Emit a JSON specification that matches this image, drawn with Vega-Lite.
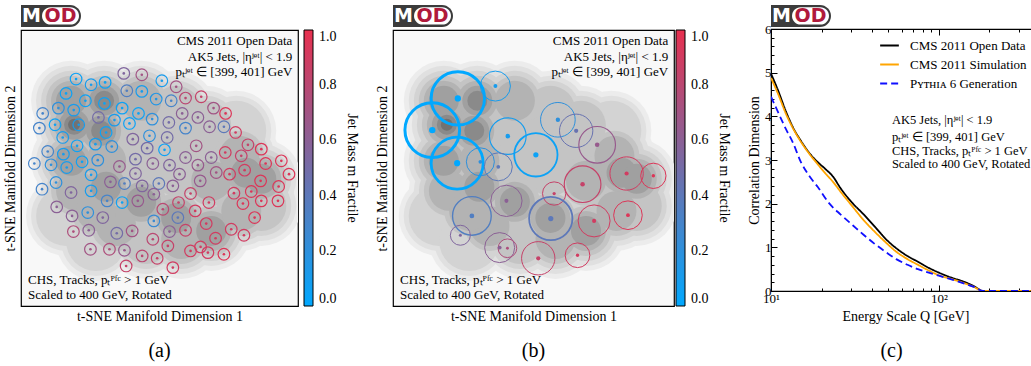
{
"$schema": "https://vega.github.io/schema/vega-lite/v6.json",
"background": "white",
"padding": {"left": 2, "top": 4, "right": 0, "bottom": 0},
"config": {
  "font": "Liberation Serif",
  "view": {"stroke": "black", "strokeWidth": 1.2},
  "axis": {"labelFont": "Liberation Serif", "titleFont": "Liberation Serif", "titleFontWeight": "normal", "titleFontSize": 14, "labelFontSize": 13, "labelColor": "black", "titleColor": "black", "grid": false, "domainColor": "black", "tickColor": "black"},
  "legend": {"labelFont": "Liberation Serif", "titleFont": "Liberation Serif", "labelColor": "black", "titleColor": "black", "titleFontWeight": "normal"},
  "title": {"font": "Liberation Serif", "fontWeight": "normal", "color": "black"}
},
"datasets": {
  "jetsA": [
    {"x":24.0,"y":76.5,"f":0.05},{"x":38.3,"y":78.2,"f":0.55},{"x":43.7,"y":77.8,"f":0.7},{"x":49.7,"y":76.0,"f":0.1},{"x":28.5,"y":74.8,"f":0.1},{"x":32.7,"y":75.5,"f":0.05},{"x":54.0,"y":74.2,"f":0.7},{"x":21.0,"y":72.2,"f":0.05},{"x":39.2,"y":73.0,"f":0.35},{"x":43.7,"y":72.8,"f":0.1},{"x":48.0,"y":70.5,"f":0.15},{"x":52.5,"y":70.0,"f":0.3},{"x":56.8,"y":70.8,"f":0.8},{"x":61.5,"y":71.2,"f":0.85},{"x":26.8,"y":70.0,"f":0.05},{"x":32.5,"y":69.2,"f":0.05},{"x":18.7,"y":67.8,"f":0.2},{"x":23.3,"y":67.2,"f":0.1},{"x":37.8,"y":67.8,"f":0.05},{"x":42.7,"y":66.2,"f":0.05},{"x":55.8,"y":66.2,"f":0.6},{"x":65.2,"y":67.8,"f":0.7},{"x":68.8,"y":66.2,"f":0.95},{"x":14.0,"y":66.2,"f":0.3},{"x":60.5,"y":65.0,"f":0.6},{"x":30.7,"y":65.0,"f":0.5},{"x":35.5,"y":64.2,"f":0.1},{"x":46.8,"y":64.5,"f":0.2},{"x":51.8,"y":63.5,"f":0.5},{"x":17.7,"y":62.8,"f":0.05},{"x":24.8,"y":62.8,"f":0.1},{"x":40.0,"y":63.2,"f":0.05},{"x":13.0,"y":61.8,"f":0.3},{"x":56.8,"y":61.8,"f":0.3},{"x":64.0,"y":62.2,"f":0.6},{"x":68.3,"y":62.2,"f":0.4},{"x":71.8,"y":60.5,"f":0.9},{"x":20.0,"y":59.0,"f":0.1},{"x":33.0,"y":60.5,"f":0.05},{"x":46.0,"y":59.5,"f":0.2},{"x":41.0,"y":58.5,"f":0.55},{"x":51.3,"y":59.0,"f":0.5},{"x":24.3,"y":56.5,"f":0.05},{"x":29.8,"y":57.0,"f":0.1},{"x":34.7,"y":56.3,"f":0.2},{"x":60.0,"y":56.5,"f":0.7},{"x":75.5,"y":56.8,"f":0.85},{"x":15.5,"y":54.8,"f":0.3},{"x":45.3,"y":55.8,"f":0.5},{"x":50.5,"y":55.3,"f":0.05},{"x":68.7,"y":54.5,"f":0.9},{"x":73.5,"y":53.5,"f":0.85},{"x":79.5,"y":55.5,"f":0.95},{"x":20.2,"y":54.0,"f":0.1},{"x":25.8,"y":51.7,"f":0.05},{"x":30.5,"y":52.2,"f":0.2},{"x":11.5,"y":51.2,"f":0.3},{"x":16.5,"y":50.8,"f":0.2},{"x":21.2,"y":50.0,"f":0.1},{"x":37.0,"y":50.3,"f":0.65},{"x":41.8,"y":52.5,"f":0.5},{"x":47.0,"y":51.2,"f":0.6},{"x":52.0,"y":50.7,"f":0.55},{"x":56.8,"y":53.0,"f":0.6},{"x":64.5,"y":53.0,"f":0.6},{"x":60.5,"y":50.7,"f":0.65},{"x":80.8,"y":51.2,"f":0.95},{"x":85.5,"y":52.0,"f":0.95},{"x":87.8,"y":48.0,"f":0.95},{"x":74.5,"y":49.2,"f":0.9},{"x":70.0,"y":48.0,"f":0.9},{"x":66.0,"y":48.5,"f":0.7},{"x":28.5,"y":47.8,"f":0.1},{"x":41.8,"y":48.2,"f":0.55},{"x":34.3,"y":45.7,"f":0.6},{"x":38.5,"y":45.2,"f":0.35},{"x":43.8,"y":44.5,"f":0.55},{"x":48.8,"y":45.2,"f":0.4},{"x":55.0,"y":48.0,"f":0.6},{"x":18.0,"y":45.5,"f":0.2},{"x":13.8,"y":43.5,"f":0.3},{"x":22.5,"y":42.5,"f":0.55},{"x":28.5,"y":43.0,"f":0.1},{"x":58.3,"y":42.2,"f":0.85},{"x":71.3,"y":42.3,"f":0.9},{"x":76.5,"y":42.8,"f":0.95},{"x":79.3,"y":46.0,"f":0.95},{"x":84.7,"y":44.3,"f":0.95},{"x":84.5,"y":40.0,"f":0.95},{"x":33.3,"y":40.0,"f":0.3},{"x":37.8,"y":39.5,"f":0.05},{"x":42.5,"y":40.0,"f":0.65},{"x":47.3,"y":42.0,"f":0.6},{"x":53.0,"y":44.5,"f":0.6},{"x":61.2,"y":46.0,"f":0.65},{"x":50.0,"y":37.5,"f":0.8},{"x":54.7,"y":39.5,"f":0.85},{"x":59.7,"y":37.0,"f":0.9},{"x":63.8,"y":39.5,"f":0.9},{"x":18.2,"y":38.2,"f":0.6},{"x":74.0,"y":39.2,"f":0.95},{"x":79.5,"y":40.0,"f":0.95},{"x":27.5,"y":36.5,"f":0.2},{"x":22.8,"y":35.5,"f":0.6},{"x":32.0,"y":35.0,"f":0.55},{"x":47.3,"y":34.0,"f":0.25},{"x":54.5,"y":35.0,"f":0.4},{"x":77.5,"y":35.0,"f":0.95},{"x":63.0,"y":33.2,"f":0.9},{"x":23.2,"y":30.8,"f":0.75},{"x":27.8,"y":31.2,"f":0.6},{"x":36.2,"y":30.3,"f":0.5},{"x":40.8,"y":31.0,"f":0.7},{"x":47.0,"y":28.5,"f":0.8},{"x":52.0,"y":30.8,"f":0.6},{"x":56.8,"y":31.2,"f":0.85},{"x":65.8,"y":28.8,"f":0.9},{"x":70.5,"y":31.5,"f":0.9},{"x":74.3,"y":29.7,"f":0.9},{"x":51.5,"y":26.5,"f":0.85},{"x":61.3,"y":26.2,"f":0.9},{"x":28.3,"y":25.5,"f":0.7},{"x":34.0,"y":25.5,"f":0.75},{"x":38.5,"y":25.2,"f":0.65},{"x":43.8,"y":23.5,"f":0.8},{"x":48.3,"y":22.8,"f":0.85},{"x":58.3,"y":25.0,"f":0.9},{"x":63.5,"y":24.5,"f":0.9},{"x":68.3,"y":24.0,"f":0.95},{"x":39.0,"y":20.5,"f":0.85},{"x":53.0,"y":20.0,"f":0.9}
  ],
  "clustersB": [
    {"x":26.65,"y":70.7,"f":0.0,"n":711},{"x":19.1,"y":61.2,"f":0.0,"n":747},{"x":26.45,"y":51.3,"f":0.0,"n":676},{"x":37.75,"y":74.4,"f":0.1,"n":225},{"x":41.4,"y":59.4,"f":0.1,"n":336},{"x":49.7,"y":53.8,"f":0.05,"n":469},{"x":33.3,"y":51.7,"f":0.2,"n":196},{"x":38.6,"y":50.2,"f":0.4,"n":196},{"x":56.2,"y":64.3,"f":0.2,"n":300},{"x":61.6,"y":61.0,"f":0.45,"n":278},{"x":67.8,"y":56.8,"f":0.65,"n":336},{"x":76.5,"y":48.2,"f":0.9,"n":278},{"x":84.4,"y":47.5,"f":0.95,"n":160},{"x":63.5,"y":45.0,"f":0.85,"n":336},{"x":55.1,"y":42.2,"f":0.85,"n":136},{"x":41.0,"y":40.0,"f":0.6,"n":245},{"x":30.8,"y":35.5,"f":0.35,"n":374},{"x":54.1,"y":34.7,"f":0.4,"n":469},{"x":66.9,"y":34.0,"f":0.9,"n":256},{"x":76.9,"y":35.7,"f":0.95,"n":205},{"x":27.4,"y":29.7,"f":0.55,"n":100},{"x":39.0,"y":26.0,"f":0.6,"n":225},{"x":41.3,"y":25.8,"f":0.75,"n":87},{"x":50.4,"y":22.8,"f":0.85,"n":278},{"x":62.0,"y":23.7,"f":0.9,"n":152}
  ],
  "density": [
    {"x":22.5,"y":70.0,"p":6},{"x":32.4,"y":70.0,"p":7},{"x":43.5,"y":70.0,"p":5},{"x":54.0,"y":67.0,"p":4},{"x":63.0,"y":62.5,"p":4},{"x":23.4,"y":62.8,"p":8},{"x":31.5,"y":61.0,"p":7},{"x":42.0,"y":59.5,"p":4},{"x":52.5,"y":58.0,"p":4},{"x":63.0,"y":55.0,"p":4},{"x":72.9,"y":53.5,"p":5},{"x":22.5,"y":52.0,"p":6},{"x":33.0,"y":52.0,"p":5},{"x":43.5,"y":50.5,"p":4},{"x":54.0,"y":49.0,"p":4},{"x":64.5,"y":46.0,"p":5},{"x":75.0,"y":48.4,"p":6},{"x":79.5,"y":46.6,"p":6},{"x":24.0,"y":43.0,"p":5},{"x":33.0,"y":44.2,"p":6},{"x":43.5,"y":39.7,"p":6},{"x":54.0,"y":34.9,"p":6},{"x":64.5,"y":31.0,"p":6},{"x":73.5,"y":37.0,"p":5},{"x":36.0,"y":32.5,"p":5},{"x":45.0,"y":28.6,"p":4},{"x":55.5,"y":28.6,"p":5},{"x":30.0,"y":37.0,"p":5},{"x":72.0,"y":61.0,"p":3},{"x":21.0,"y":35.5,"p":3},{"x":30.0,"y":28.0,"p":3},{"x":79.5,"y":38.5,"p":4}
  ],
  "notesTR": [
    {"x":88.8,"y":88.0,"t":"CMS 2011 Open Data"},
    {"x":88.8,"y":83.2,"t":"AK5 Jets, |ηʲᵉᵗ| < 1.9"},
    {"x":88.8,"y":78.7,"t":"pₜʲᵉᵗ ∈ [399, 401] GeV"}
  ],
  "notesBL": [
    {"x":9.6,"y":16.3,"t":"CHS, Tracks, pₜᴾᶠᶜ > 1 GeV"},
    {"x":9.6,"y":11.8,"t":"Scaled to 400 GeV, Rotated"}
  ],
  "notesC": [
    {"x":52.5,"y":3.92,"t":"AK5 Jets, |ηʲᵉᵗ| < 1.9"},
    {"x":52.5,"y":3.53,"t":"pₜʲᵉᵗ ∈ [399, 401] GeV"},
    {"x":52.5,"y":3.2,"t":"CHS, Tracks, pₜᴾᶠᶜ > 1 GeV"},
    {"x":52.5,"y":2.9,"t":"Scaled to 400 GeV, Rotated"}
  ],
  "curves": [
    {"Q":10,"d":4.98,"s":"CMS 2011 Open Data"},{"Q":11,"d":4.6,"s":"CMS 2011 Open Data"},{"Q":12.3,"d":4.1,"s":"CMS 2011 Open Data"},{"Q":13.5,"d":3.75,"s":"CMS 2011 Open Data"},{"Q":15,"d":3.45,"s":"CMS 2011 Open Data"},{"Q":17,"d":3.15,"s":"CMS 2011 Open Data"},{"Q":19,"d":2.95,"s":"CMS 2011 Open Data"},{"Q":21,"d":2.8,"s":"CMS 2011 Open Data"},{"Q":23.4,"d":2.62,"s":"CMS 2011 Open Data"},{"Q":26,"d":2.35,"s":"CMS 2011 Open Data"},{"Q":30.8,"d":2.0,"s":"CMS 2011 Open Data"},{"Q":35.3,"d":1.77,"s":"CMS 2011 Open Data"},{"Q":41.4,"d":1.48,"s":"CMS 2011 Open Data"},{"Q":48,"d":1.2,"s":"CMS 2011 Open Data"},{"Q":55.7,"d":0.98,"s":"CMS 2011 Open Data"},{"Q":65,"d":0.8,"s":"CMS 2011 Open Data"},{"Q":75,"d":0.67,"s":"CMS 2011 Open Data"},{"Q":87,"d":0.53,"s":"CMS 2011 Open Data"},{"Q":100,"d":0.42,"s":"CMS 2011 Open Data"},{"Q":120,"d":0.3,"s":"CMS 2011 Open Data"},{"Q":139,"d":0.22,"s":"CMS 2011 Open Data"},{"Q":160,"d":0.12,"s":"CMS 2011 Open Data"},{"Q":184,"d":0.0,"s":"CMS 2011 Open Data"},{"Q":250,"d":0.0,"s":"CMS 2011 Open Data"},{"Q":400,"d":0.0,"s":"CMS 2011 Open Data"},
    {"Q":10,"d":4.88,"s":"CMS 2011 Simulation"},{"Q":11,"d":4.52,"s":"CMS 2011 Simulation"},{"Q":12.3,"d":4.05,"s":"CMS 2011 Simulation"},{"Q":13.5,"d":3.73,"s":"CMS 2011 Simulation"},{"Q":15,"d":3.43,"s":"CMS 2011 Simulation"},{"Q":17,"d":3.13,"s":"CMS 2011 Simulation"},{"Q":19,"d":2.9,"s":"CMS 2011 Simulation"},{"Q":21,"d":2.7,"s":"CMS 2011 Simulation"},{"Q":23.4,"d":2.5,"s":"CMS 2011 Simulation"},{"Q":26,"d":2.27,"s":"CMS 2011 Simulation"},{"Q":30.8,"d":1.92,"s":"CMS 2011 Simulation"},{"Q":35.3,"d":1.64,"s":"CMS 2011 Simulation"},{"Q":41.4,"d":1.36,"s":"CMS 2011 Simulation"},{"Q":48,"d":1.12,"s":"CMS 2011 Simulation"},{"Q":55.7,"d":0.9,"s":"CMS 2011 Simulation"},{"Q":65,"d":0.73,"s":"CMS 2011 Simulation"},{"Q":75,"d":0.6,"s":"CMS 2011 Simulation"},{"Q":87,"d":0.47,"s":"CMS 2011 Simulation"},{"Q":100,"d":0.36,"s":"CMS 2011 Simulation"},{"Q":120,"d":0.27,"s":"CMS 2011 Simulation"},{"Q":139,"d":0.19,"s":"CMS 2011 Simulation"},{"Q":160,"d":0.1,"s":"CMS 2011 Simulation"},{"Q":184,"d":0.0,"s":"CMS 2011 Simulation"},{"Q":250,"d":0.0,"s":"CMS 2011 Simulation"},{"Q":400,"d":0.0,"s":"CMS 2011 Simulation"},
    {"Q":10,"d":4.45,"s":"Pʏᴛʜɪᴀ 6 Generation"},{"Q":11,"d":4.1,"s":"Pʏᴛʜɪᴀ 6 Generation"},{"Q":12.3,"d":3.7,"s":"Pʏᴛʜɪᴀ 6 Generation"},{"Q":13.5,"d":3.4,"s":"Pʏᴛʜɪᴀ 6 Generation"},{"Q":15,"d":2.97,"s":"Pʏᴛʜɪᴀ 6 Generation"},{"Q":17,"d":2.62,"s":"Pʏᴛʜɪᴀ 6 Generation"},{"Q":19,"d":2.38,"s":"Pʏᴛʜɪᴀ 6 Generation"},{"Q":22.3,"d":2.0,"s":"Pʏᴛʜɪᴀ 6 Generation"},{"Q":26,"d":1.75,"s":"Pʏᴛʜɪᴀ 6 Generation"},{"Q":30.8,"d":1.5,"s":"Pʏᴛʜɪᴀ 6 Generation"},{"Q":35.3,"d":1.3,"s":"Pʏᴛʜɪᴀ 6 Generation"},{"Q":41.4,"d":1.08,"s":"Pʏᴛʜɪᴀ 6 Generation"},{"Q":48,"d":0.9,"s":"Pʏᴛʜɪᴀ 6 Generation"},{"Q":55.7,"d":0.73,"s":"Pʏᴛʜɪᴀ 6 Generation"},{"Q":65,"d":0.6,"s":"Pʏᴛʜɪᴀ 6 Generation"},{"Q":75,"d":0.5,"s":"Pʏᴛʜɪᴀ 6 Generation"},{"Q":87,"d":0.42,"s":"Pʏᴛʜɪᴀ 6 Generation"},{"Q":100,"d":0.35,"s":"Pʏᴛʜɪᴀ 6 Generation"},{"Q":120,"d":0.26,"s":"Pʏᴛʜɪᴀ 6 Generation"},{"Q":139,"d":0.18,"s":"Pʏᴛʜɪᴀ 6 Generation"},{"Q":160,"d":0.1,"s":"Pʏᴛʜɪᴀ 6 Generation"},{"Q":184,"d":0.0,"s":"Pʏᴛʜɪᴀ 6 Generation"},{"Q":250,"d":0.0,"s":"Pʏᴛʜɪᴀ 6 Generation"},{"Q":400,"d":0.0,"s":"Pʏᴛʜɪᴀ 6 Generation"}
  ]
},
"spacing": 14,
"resolve": {"scale": {"color": "independent", "fill": "independent", "stroke": "independent", "size": "independent", "strokeWidth": "independent", "strokeDash": "independent", "x": "independent", "y": "independent"}, "legend": {"color": "independent", "stroke": "independent", "strokeDash": "independent", "fill": "independent", "size": "independent", "strokeWidth": "independent"}},
"hconcat": [
  {
    "spacing": 2,
    "resolve": {"scale": {"x": "independent", "y": "independent"}, "legend": {"stroke": "independent", "color": "independent", "strokeDash": "independent"}},
    "vconcat": [
      {
        "width": 60, "height": 23, "view": {"stroke": null},
        "data": {"values": [{}]},
        "layer": [
          {"mark": {"type": "rect", "color": "#3b3b3b", "cornerRadiusTopRight": 11.5, "cornerRadiusBottomRight": 11.5}, "encoding": {"x": {"datum": 0, "type": "quantitative", "scale": {"domain": [0, 60]}, "axis": null}, "x2": {"datum": 60}, "y": {"datum": 0, "type": "quantitative", "scale": {"domain": [0, 23]}, "axis": null}, "y2": {"datum": 23}}},
          {"mark": {"type": "rect", "color": "white", "cornerRadius": 9}, "encoding": {"x": {"datum": 21, "type": "quantitative"}, "x2": {"datum": 58}, "y": {"datum": 2.5, "type": "quantitative"}, "y2": {"datum": 20.5}}},
          {"mark": {"type": "text", "text": "M", "color": "white", "font": "DejaVu Sans", "fontWeight": "bold", "fontSize": 19, "baseline": "middle", "align": "center"}, "encoding": {"x": {"datum": 10.5, "type": "quantitative"}, "y": {"datum": 11.5, "type": "quantitative"}}},
          {"mark": {"type": "text", "text": "OD", "color": "#b01a3c", "font": "DejaVu Sans", "fontWeight": "bold", "fontSize": 19, "baseline": "middle", "align": "center"}, "encoding": {"x": {"datum": 39.5, "type": "quantitative"}, "y": {"datum": 11.5, "type": "quantitative"}}}
        ]
      },
      {
        "width": 277, "height": 276,
        "view": {"fill": "#f8f8f8"},
        "title": {"text": "(a)", "orient": "bottom", "offset": 18, "fontSize": 20, "anchor": "middle"},
        "resolve": {"scale": {"fill": "independent"}, "legend": {"fill": "independent"}},
        "layer": [
          {"data": {"name": "density"}, "transform": [{"filter": "datum.p >= 1"}], "mark": {"type": "point", "filled": true, "size": 6400, "color": "#ececec", "opacity": 1, "strokeWidth": 0, "clip": true}, "encoding": {"x": {"field": "x", "type": "quantitative", "scale": {"domain": [7.5, 90.5], "nice": false, "zero": false}, "axis": {"title": "t-SNE Manifold Dimension 1", "labels": false, "ticks": false, "domain": false, "titlePadding": 3}}, "y": {"field": "y", "type": "quantitative", "scale": {"domain": [8.5, 91.2], "nice": false, "zero": false}, "axis": {"title": "t-SNE Manifold Dimension 2", "labels": false, "ticks": false, "domain": false, "titlePadding": 4}}}},
          {"data": {"name": "density"}, "transform": [{"filter": "datum.p >= 2"}], "mark": {"type": "point", "filled": true, "size": 4900, "color": "#e0e0e0", "opacity": 1, "strokeWidth": 0, "clip": true}, "encoding": {"x": {"field": "x", "type": "quantitative"}, "y": {"field": "y", "type": "quantitative"}}},
          {"data": {"name": "density"}, "transform": [{"filter": "datum.p >= 3"}], "mark": {"type": "point", "filled": true, "size": 3600, "color": "#d3d3d3", "opacity": 1, "strokeWidth": 0, "clip": true}, "encoding": {"x": {"field": "x", "type": "quantitative"}, "y": {"field": "y", "type": "quantitative"}}},
          {"data": {"name": "density"}, "transform": [{"filter": "datum.p >= 4"}], "mark": {"type": "point", "filled": true, "size": 2500, "color": "#c4c4c4", "opacity": 1, "strokeWidth": 0, "clip": true}, "encoding": {"x": {"field": "x", "type": "quantitative"}, "y": {"field": "y", "type": "quantitative"}}},
          {"data": {"name": "density"}, "transform": [{"filter": "datum.p >= 5"}], "mark": {"type": "point", "filled": true, "size": 1600, "color": "#b3b3b3", "opacity": 1, "strokeWidth": 0, "clip": true}, "encoding": {"x": {"field": "x", "type": "quantitative"}, "y": {"field": "y", "type": "quantitative"}}},
          {"data": {"name": "density"}, "transform": [{"filter": "datum.p >= 6"}], "mark": {"type": "point", "filled": true, "size": 900, "color": "#a0a0a0", "opacity": 1, "strokeWidth": 0, "clip": true}, "encoding": {"x": {"field": "x", "type": "quantitative"}, "y": {"field": "y", "type": "quantitative"}}},
          {"data": {"name": "density"}, "transform": [{"filter": "datum.p >= 7"}], "mark": {"type": "point", "filled": true, "size": 400, "color": "#8a8a8a", "opacity": 1, "strokeWidth": 0, "clip": true}, "encoding": {"x": {"field": "x", "type": "quantitative"}, "y": {"field": "y", "type": "quantitative"}}},
          {"data": {"name": "density"}, "transform": [{"filter": "datum.p >= 8"}], "mark": {"type": "point", "filled": true, "size": 144, "color": "#727272", "opacity": 1, "strokeWidth": 0, "clip": true}, "encoding": {"x": {"field": "x", "type": "quantitative"}, "y": {"field": "y", "type": "quantitative"}}},
          {"data": {"name": "jetsA"}, "mark": {"type": "point", "filled": false, "size": 135, "strokeWidth": 1.2, "opacity": 1}, "encoding": {"x": {"field": "x", "type": "quantitative"}, "y": {"field": "y", "type": "quantitative"}, "stroke": {"field": "f", "type": "quantitative", "scale": {"domain": [0, 1], "range": ["#00a8ff", "#e8304f"], "interpolate": "rgb"}, "legend": {"type": "gradient", "title": "Jet Mass m Fractile", "orient": "right", "offset": 6, "direction": "vertical", "gradientLength": 276, "gradientThickness": 9, "gradientStrokeColor": "black", "gradientStrokeWidth": 1, "values": [0, 0.2, 0.4, 0.6, 0.8, 1], "format": ".1f", "labelFontSize": 14, "labelOffset": 6, "labelOverlap": false, "titleOrient": "right", "titleAngle": 90, "titleFontSize": 14, "titleAnchor": "middle", "titlePadding": 8}}}},
          {"data": {"name": "jetsA"}, "mark": {"type": "point", "filled": true, "size": 7, "opacity": 1, "strokeWidth": 0}, "encoding": {"x": {"field": "x", "type": "quantitative"}, "y": {"field": "y", "type": "quantitative"}, "fill": {"field": "f", "type": "quantitative", "scale": {"domain": [0, 1], "range": ["#00a8ff", "#e8304f"], "interpolate": "rgb"}, "legend": null}}},
          {"data": {"name": "notesTR"}, "mark": {"type": "text", "align": "right", "baseline": "middle", "fontSize": 13, "color": "black"}, "encoding": {"x": {"field": "x", "type": "quantitative"}, "y": {"field": "y", "type": "quantitative"}, "text": {"field": "t"}}},
          {"data": {"name": "notesBL"}, "mark": {"type": "text", "align": "left", "baseline": "middle", "fontSize": 13, "color": "black"}, "encoding": {"x": {"field": "x", "type": "quantitative"}, "y": {"field": "y", "type": "quantitative"}, "text": {"field": "t"}}}
        ]
      }
    ]
  },
  {
    "spacing": 2,
    "resolve": {"scale": {"x": "independent", "y": "independent"}, "legend": {"stroke": "independent", "color": "independent", "strokeDash": "independent"}},
    "vconcat": [
      {
        "width": 60, "height": 23, "view": {"stroke": null},
        "data": {"values": [{}]},
        "layer": [
          {"mark": {"type": "rect", "color": "#3b3b3b", "cornerRadiusTopRight": 11.5, "cornerRadiusBottomRight": 11.5}, "encoding": {"x": {"datum": 0, "type": "quantitative", "scale": {"domain": [0, 60]}, "axis": null}, "x2": {"datum": 60}, "y": {"datum": 0, "type": "quantitative", "scale": {"domain": [0, 23]}, "axis": null}, "y2": {"datum": 23}}},
          {"mark": {"type": "rect", "color": "white", "cornerRadius": 9}, "encoding": {"x": {"datum": 21, "type": "quantitative"}, "x2": {"datum": 58}, "y": {"datum": 2.5, "type": "quantitative"}, "y2": {"datum": 20.5}}},
          {"mark": {"type": "text", "text": "M", "color": "white", "font": "DejaVu Sans", "fontWeight": "bold", "fontSize": 19, "baseline": "middle", "align": "center"}, "encoding": {"x": {"datum": 10.5, "type": "quantitative"}, "y": {"datum": 11.5, "type": "quantitative"}}},
          {"mark": {"type": "text", "text": "OD", "color": "#b01a3c", "font": "DejaVu Sans", "fontWeight": "bold", "fontSize": 19, "baseline": "middle", "align": "center"}, "encoding": {"x": {"datum": 39.5, "type": "quantitative"}, "y": {"datum": 11.5, "type": "quantitative"}}}
        ]
      },
      {
        "width": 281, "height": 276,
        "view": {"fill": "#f8f8f8"},
        "title": {"text": "(b)", "orient": "bottom", "offset": 18, "fontSize": 20, "anchor": "middle"},
        "resolve": {"scale": {"size": "independent", "strokeWidth": "independent", "fill": "independent"}, "legend": {"fill": "independent", "size": "independent", "strokeWidth": "independent"}},
        "layer": [
          {"data": {"name": "density"}, "transform": [{"filter": "datum.p >= 1"}], "mark": {"type": "point", "filled": true, "size": 6400, "color": "#ececec", "opacity": 1, "strokeWidth": 0, "clip": true}, "encoding": {"x": {"field": "x", "type": "quantitative", "scale": {"domain": [7.5, 90.5], "nice": false, "zero": false}, "axis": {"title": "t-SNE Manifold Dimension 1", "labels": false, "ticks": false, "domain": false, "titlePadding": 3}}, "y": {"field": "y", "type": "quantitative", "scale": {"domain": [8.5, 91.2], "nice": false, "zero": false}, "axis": {"title": "t-SNE Manifold Dimension 2", "labels": false, "ticks": false, "domain": false, "titlePadding": 4}}}},
          {"data": {"name": "density"}, "transform": [{"filter": "datum.p >= 2"}], "mark": {"type": "point", "filled": true, "size": 4900, "color": "#e0e0e0", "opacity": 1, "strokeWidth": 0, "clip": true}, "encoding": {"x": {"field": "x", "type": "quantitative"}, "y": {"field": "y", "type": "quantitative"}}},
          {"data": {"name": "density"}, "transform": [{"filter": "datum.p >= 3"}], "mark": {"type": "point", "filled": true, "size": 3600, "color": "#d3d3d3", "opacity": 1, "strokeWidth": 0, "clip": true}, "encoding": {"x": {"field": "x", "type": "quantitative"}, "y": {"field": "y", "type": "quantitative"}}},
          {"data": {"name": "density"}, "transform": [{"filter": "datum.p >= 4"}], "mark": {"type": "point", "filled": true, "size": 2500, "color": "#c4c4c4", "opacity": 1, "strokeWidth": 0, "clip": true}, "encoding": {"x": {"field": "x", "type": "quantitative"}, "y": {"field": "y", "type": "quantitative"}}},
          {"data": {"name": "density"}, "transform": [{"filter": "datum.p >= 5"}], "mark": {"type": "point", "filled": true, "size": 1600, "color": "#b3b3b3", "opacity": 1, "strokeWidth": 0, "clip": true}, "encoding": {"x": {"field": "x", "type": "quantitative"}, "y": {"field": "y", "type": "quantitative"}}},
          {"data": {"name": "density"}, "transform": [{"filter": "datum.p >= 6"}], "mark": {"type": "point", "filled": true, "size": 900, "color": "#a0a0a0", "opacity": 1, "strokeWidth": 0, "clip": true}, "encoding": {"x": {"field": "x", "type": "quantitative"}, "y": {"field": "y", "type": "quantitative"}}},
          {"data": {"name": "density"}, "transform": [{"filter": "datum.p >= 7"}], "mark": {"type": "point", "filled": true, "size": 400, "color": "#8a8a8a", "opacity": 1, "strokeWidth": 0, "clip": true}, "encoding": {"x": {"field": "x", "type": "quantitative"}, "y": {"field": "y", "type": "quantitative"}}},
          {"data": {"name": "density"}, "transform": [{"filter": "datum.p >= 8"}], "mark": {"type": "point", "filled": true, "size": 144, "color": "#727272", "opacity": 1, "strokeWidth": 0, "clip": true}, "encoding": {"x": {"field": "x", "type": "quantitative"}, "y": {"field": "y", "type": "quantitative"}}},
          {"data": {"name": "clustersB"}, "mark": {"type": "point", "filled": false, "opacity": 1, "clip": true}, "encoding": {"x": {"field": "x", "type": "quantitative"}, "y": {"field": "y", "type": "quantitative"}, "size": {"field": "n", "type": "quantitative", "scale": {"domain": [0, 1000], "range": [0, 4000], "zero": true}, "legend": null}, "strokeWidth": {"field": "n", "type": "quantitative", "scale": {"domain": [300, 720], "range": [1, 3], "clamp": true}, "legend": null}, "stroke": {"field": "f", "type": "quantitative", "scale": {"domain": [0, 1], "range": ["#00a8ff", "#e8304f"], "interpolate": "rgb"}, "legend": {"type": "gradient", "title": "Jet Mass m Fractile", "orient": "right", "offset": 2, "direction": "vertical", "gradientLength": 276, "gradientThickness": 9, "gradientStrokeColor": "black", "gradientStrokeWidth": 1, "values": [0, 0.2, 0.4, 0.6, 0.8, 1], "format": ".1f", "labelFontSize": 14, "labelOffset": 6, "labelOverlap": false, "titleOrient": "right", "titleAngle": 90, "titleFontSize": 14, "titleAnchor": "middle", "titlePadding": 8}}}},
          {"data": {"name": "clustersB"}, "mark": {"type": "point", "filled": true, "opacity": 1, "strokeWidth": 0}, "encoding": {"x": {"field": "x", "type": "quantitative"}, "y": {"field": "y", "type": "quantitative"}, "size": {"field": "n", "type": "quantitative", "scale": {"domain": [100, 720], "range": [9, 40]}, "legend": null}, "fill": {"field": "f", "type": "quantitative", "scale": {"domain": [0, 1], "range": ["#00a8ff", "#e8304f"], "interpolate": "rgb"}, "legend": null}}},
          {"data": {"name": "notesTR"}, "mark": {"type": "text", "align": "right", "baseline": "middle", "fontSize": 13, "color": "black"}, "encoding": {"x": {"field": "x", "type": "quantitative"}, "y": {"field": "y", "type": "quantitative"}, "text": {"field": "t"}}},
          {"data": {"name": "notesBL"}, "mark": {"type": "text", "align": "left", "baseline": "middle", "fontSize": 13, "color": "black"}, "encoding": {"x": {"field": "x", "type": "quantitative"}, "y": {"field": "y", "type": "quantitative"}, "text": {"field": "t"}}}
        ]
      }
    ]
  },
  {
    "spacing": 2,
    "bounds": "flush",
    "resolve": {"scale": {"x": "independent", "y": "independent"}, "legend": {"stroke": "independent", "color": "independent", "strokeDash": "independent"}},
    "vconcat": [
      {
        "width": 60, "height": 23, "view": {"stroke": null},
        "data": {"values": [{}]},
        "layer": [
          {"mark": {"type": "rect", "color": "#3b3b3b", "cornerRadiusTopRight": 11.5, "cornerRadiusBottomRight": 11.5}, "encoding": {"x": {"datum": 0, "type": "quantitative", "scale": {"domain": [0, 60]}, "axis": null}, "x2": {"datum": 60}, "y": {"datum": 0, "type": "quantitative", "scale": {"domain": [0, 23]}, "axis": null}, "y2": {"datum": 23}}},
          {"mark": {"type": "rect", "color": "white", "cornerRadius": 9}, "encoding": {"x": {"datum": 21, "type": "quantitative"}, "x2": {"datum": 58}, "y": {"datum": 2.5, "type": "quantitative"}, "y2": {"datum": 20.5}}},
          {"mark": {"type": "text", "text": "M", "color": "white", "font": "DejaVu Sans", "fontWeight": "bold", "fontSize": 19, "baseline": "middle", "align": "center"}, "encoding": {"x": {"datum": 10.5, "type": "quantitative"}, "y": {"datum": 11.5, "type": "quantitative"}}},
          {"mark": {"type": "text", "text": "OD", "color": "#b01a3c", "font": "DejaVu Sans", "fontWeight": "bold", "fontSize": 19, "baseline": "middle", "align": "center"}, "encoding": {"x": {"datum": 39.5, "type": "quantitative"}, "y": {"datum": 11.5, "type": "quantitative"}}}
        ]
      },
      {
        "width": 269, "height": 262,
        "title": {"text": "(c)", "orient": "bottom", "offset": 18, "fontSize": 20, "anchor": "middle", "dx": -14},
        "resolve": {"axis": {"x": "independent", "y": "independent"}},
        "layer": [
          {"data": {"name": "curves"}, "mark": {"type": "line", "strokeWidth": 1.8, "interpolate": "monotone", "clip": true},
           "encoding": {
             "x": {"field": "Q", "type": "quantitative", "scale": {"type": "log", "domain": [10, 400], "nice": false}, "axis": {"title": "Energy Scale Q [GeV]", "values": [10, 20, 30, 40, 50, 60, 70, 80, 90, 100, 200, 300, 400], "labelExpr": "datum.value == 10 ? '10¹' : (datum.value == 100 ? '10²' : '')", "labelFlush": false, "labelOverlap": false, "tickSize": {"condition": {"test": "datum.value == 10 || datum.value == 100", "value": -6}, "value": -3}, "labelPadding": 7, "titlePadding": 1}},
             "y": {"field": "d", "type": "quantitative", "scale": {"domain": [0, 6], "nice": false}, "axis": {"title": "Correlation Dimension", "values": [0, 0.2, 0.4, 0.6, 0.8, 1, 1.2, 1.4, 1.6, 1.8, 2, 2.2, 2.4, 2.6, 2.8, 3, 3.2, 3.4, 3.6, 3.8, 4, 4.2, 4.4, 4.6, 4.8, 5, 5.2, 5.4, 5.6, 5.8, 6], "labelExpr": "datum.value % 1 === 0 ? format(datum.value, 'd') : ''", "labelOverlap": false, "tickSize": {"condition": {"test": "datum.value % 1 === 0", "value": -6}, "value": -3}, "labelPadding": 6, "titlePadding": 3}},
             "color": {"field": "s", "type": "nominal", "scale": {"domain": ["CMS 2011 Open Data", "CMS 2011 Simulation", "Pʏᴛʜɪᴀ 6 Generation"], "range": ["#000000", "#ffa500", "#1010ff"]}, "legend": {"title": null, "orient": "none", "legendX": 108, "legendY": 6, "symbolType": "stroke", "symbolStrokeWidth": 2, "symbolSize": 350, "labelFontSize": 13, "labelOffset": 10, "rowPadding": 1}},
             "strokeDash": {"field": "s", "type": "nominal", "scale": {"domain": ["CMS 2011 Open Data", "CMS 2011 Simulation", "Pʏᴛʜɪᴀ 6 Generation"], "range": [[1, 0], [1, 0], [7, 4]]}, "legend": {"title": null, "orient": "none", "legendX": 108, "legendY": 6, "symbolType": "stroke", "symbolStrokeWidth": 2, "symbolSize": 350, "labelFontSize": 13, "labelOffset": 10, "rowPadding": 1}}
           }},
          {"data": {"name": "notesC"}, "mark": {"type": "text", "align": "left", "baseline": "middle", "fontSize": 12.5, "color": "black"},
           "encoding": {
             "x": {"field": "x", "type": "quantitative", "scale": {"type": "log", "domain": [10, 400], "nice": false}, "axis": {"orient": "top", "title": null, "labels": false, "minExtent": 0, "maxExtent": 0, "values": [10, 20, 30, 40, 50, 60, 70, 80, 90, 100, 200, 300, 400], "tickSize": {"condition": {"test": "datum.value == 10 || datum.value == 100", "value": -6}, "value": -3}}},
             "y": {"field": "y", "type": "quantitative", "scale": {"domain": [0, 6], "nice": false}, "axis": null},
             "text": {"field": "t"}
           }}
        ]
      }
    ]
  }
]
}
